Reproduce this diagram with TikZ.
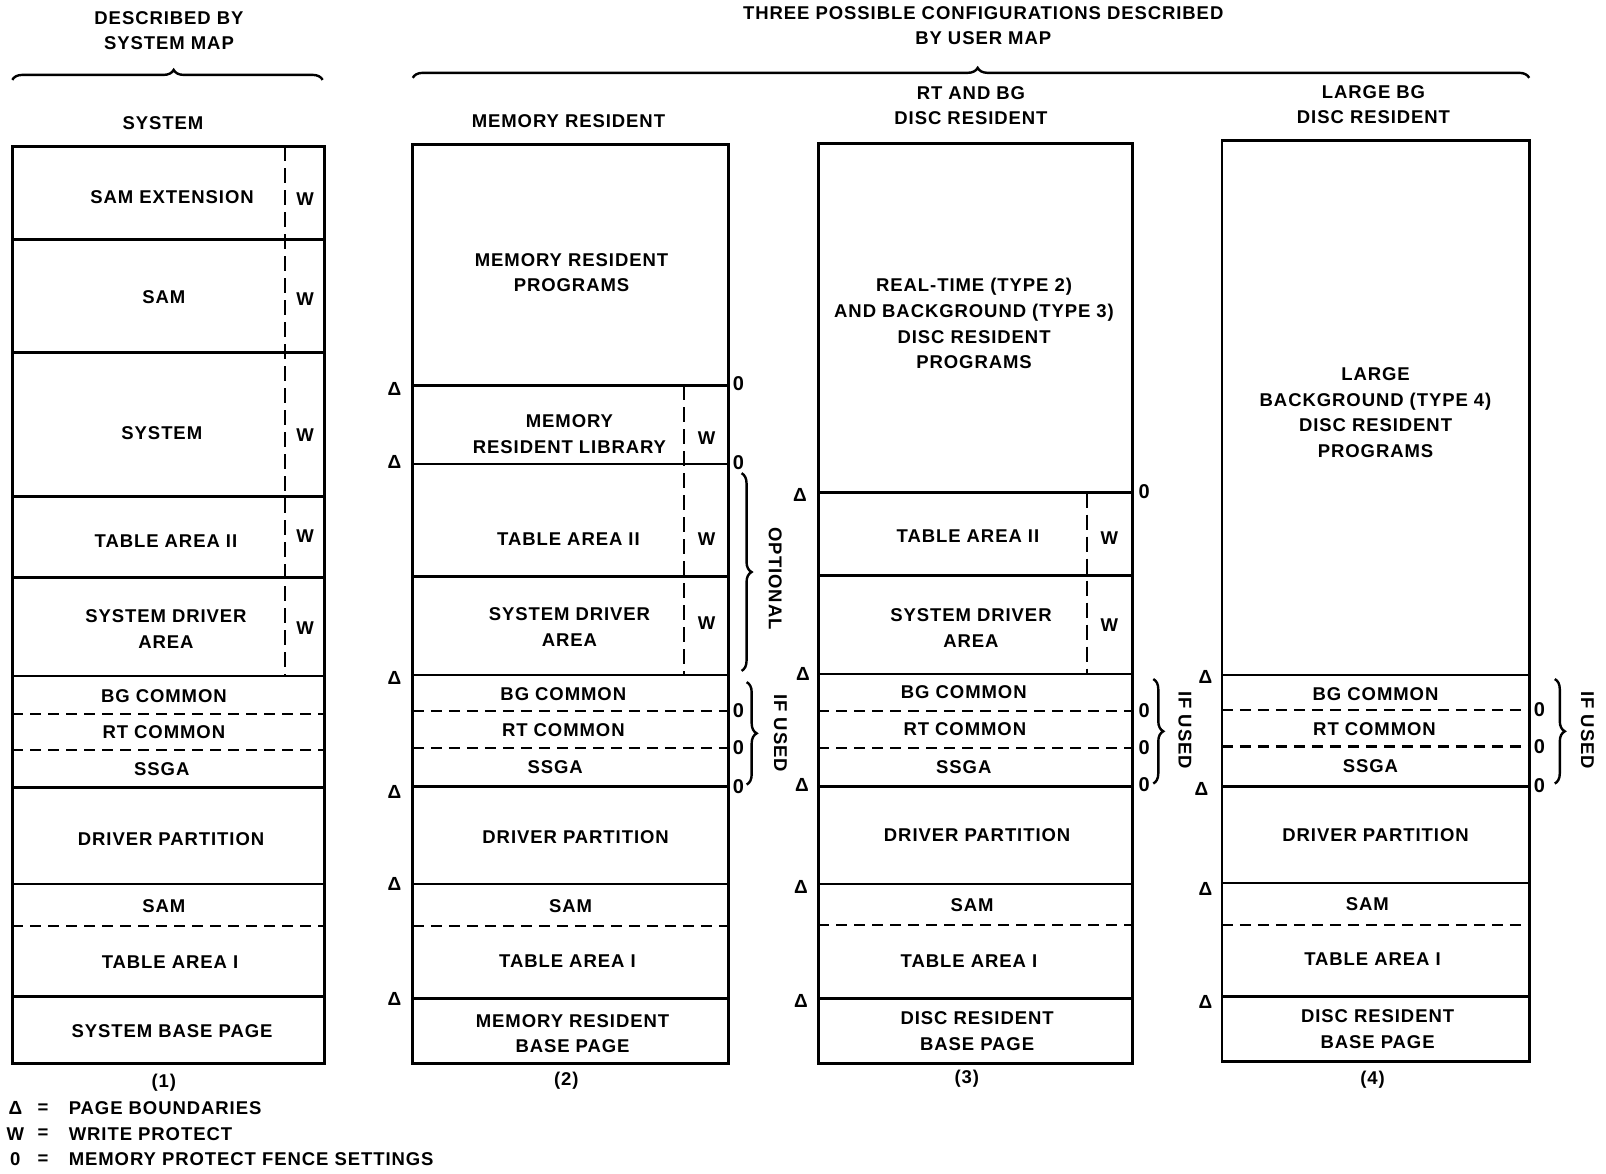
\documentclass[tikz,border=0pt]{standalone}
\usepackage{fontspec}
\setmainfont{Liberation Sans}[LetterSpace=5]
\newfontfamily\trifont{Liberation Sans}
\usetikzlibrary{decorations.pathreplacing}
\begin{document}
\begin{tikzpicture}[x=1.0242pt,y=-1.0242pt,
  font=\fontsize{18.5}{25.6}\selectfont\bfseries,
  every node/.style={inner sep=0pt,align=center},
  box/.style={line width=2.8pt},
  hdash/.style={line width=2.4pt,dash pattern=on 11pt off 7pt},
  vdash/.style={line width=2.4pt,dash pattern=on 15pt off 7pt},
  brc/.style={line width=2.4pt,decorate,decoration={brace,amplitude=10pt}},
  pg/.style={font=\trifont\fontsize{19}{19}\selectfont\bfseries},
  fence/.style={font=\fontsize{20}{20}\selectfont\bfseries},
  vert/.style={rotate=-90}]
\useasboundingbox (0,0) rectangle (1568,1146);

% ---------- headings ----------
\node (h1) at (165,30) {DESCRIBED BY\\SYSTEM MAP};
\draw[brc,decoration={aspect=0.52}] (12,78) -- (315,78);
\node (h2) at (960,25) {THREE POSSIBLE CONFIGURATIONS DESCRIBED\\BY USER MAP};
\draw[brc,decoration={aspect=0.506}] (403,76) -- (1493,76);

\node (t1) at (159,120) {SYSTEM};
\node (t2) at (555,118) {MEMORY RESIDENT};
\node (t3) at (948,103) {RT AND BG\\DISC RESIDENT};
\node (t4) at (1341,102) {LARGE BG\\DISC RESIDENT};

% ---------- map (1): system ----------
\draw[box] (12,143) rectangle (317,1038);
\foreach \y in {234,344,485,564,660,769,863,973} \draw[box] (12,\y) -- (317,\y);
\foreach \y in {697,732,904} \draw[hdash] (12,\y) -- (317,\y);
\draw[vdash] (278,143) -- (278,660);
\node (a1) at (168,192) {SAM EXTENSION};
\node (a2) at (160,290) {SAM};
\node (a3) at (158,423) {SYSTEM};
\node (a4) at (162,528) {TABLE AREA II};
\node (a5) at (162,614) {SYSTEM DRIVER\\AREA};
\node (a6) at (160,680) {BG COMMON};
\node (a7) at (160,715) {RT COMMON};
\node (a8) at (158,751) {SSGA};
\node (a9) at (167,819) {DRIVER PARTITION};
\node (a10) at (160,885) {SAM};
\node (a11) at (166,939) {TABLE AREA I};
\node (a12) at (168,1007) {SYSTEM BASE PAGE};
\foreach \y/\n in {194/1,292/2,425/3,523/4,613/5} \node (aw\n) at (298,\y) {W};
\node (n1) at (160,1057) {(1)};

% ---------- map (2): memory resident ----------
\draw[box] (403,141) rectangle (711,1038);
\foreach \y in {376,453,563,659,768,863,975} \draw[box] (403,\y) -- (711,\y);
\foreach \y in {694,730,904} \draw[hdash] (403,\y) -- (711,\y);
\draw[vdash] (668,376) -- (668,659);
\node (b1) at (558,266) {MEMORY RESIDENT\\PROGRAMS};
\node (b2) at (556,424) {MEMORY\\RESIDENT LIBRARY};
\node (b3) at (555,526) {TABLE AREA II};
\node (b4) at (556,612) {SYSTEM DRIVER\\AREA};
\node (b5) at (550,678) {BG COMMON};
\node (b6) at (550,713) {RT COMMON};
\node (b7) at (542,749) {SSGA};
\node (b8) at (562,817) {DRIVER PARTITION};
\node (b9) at (557,885) {SAM};
\node (b10) at (554,938) {TABLE AREA I};
\node (b11) at (559,1009) {MEMORY RESIDENT\\BASE PAGE};
\foreach \y/\n in {428/1,526/2,608/3} \node (bw\n) at (690,\y) {W};
\foreach \y/\n in {380/1,451/2,662/3,773/4,863/5,975/6} \node[pg] (bp\n) at (385,\y) {Δ};
\foreach \y/\n in {375/1,452/2,694/3,730/4,768/5} \node[fence] (bz\n) at (721,\y) {0};
\draw[brc] (724,462) -- (724,655);
\node[vert] (bo) at (757,565) {OPTIONAL};
\draw[brc] (729,666) -- (729,766);
\node[vert] (bu) at (762,716) {IF USED};
\node (n2) at (553,1055) {(2)};

% ---------- map (3): RT and BG disc resident ----------
\draw[box] (799,140) rectangle (1106,1038);
\foreach \y in {481,562,658,768,863,975} \draw[box] (799,\y) -- (1106,\y);
\foreach \y in {694,730,903} \draw[hdash] (799,\y) -- (1106,\y);
\draw[vdash] (1061,481) -- (1061,658);
\node (c1) at (951,316) {REAL-TIME (TYPE 2)\\AND BACKGROUND (TYPE 3)\\DISC RESIDENT\\PROGRAMS};
\node (c2) at (945,523) {TABLE AREA II};
\node (c3) at (948,613) {SYSTEM DRIVER\\AREA};
\node (c4) at (941,676) {BG COMMON};
\node (c5) at (942,712) {RT COMMON};
\node (c6) at (941,749) {SSGA};
\node (c7) at (954,815) {DRIVER PARTITION};
\node (c8) at (949,884) {SAM};
\node (c9) at (946,938) {TABLE AREA I};
\node (c10) at (954,1007) {DISC RESIDENT\\BASE PAGE};
\foreach \y/\n in {525/1,610/2} \node (cw\n) at (1083,\y) {W};
\foreach \x/\y/\n in {781/483/1,784/658/2,783/766/3,782/866/4,782/977/5} \node[pg] (cp\n) at (\x,\y) {Δ};
\foreach \y/\n in {480/1,694/2,730/3,766/4} \node[fence] (cz\n) at (1117,\y) {0};
\draw[brc] (1126,663) -- (1126,765);
\node[vert] (cu) at (1157,713) {IF USED};
\node (n3) at (944,1053) {(3)};

% ---------- map (4): large BG disc resident ----------
\draw[box] (1193,137) rectangle (1493,1036);
\foreach \y in {659,768,862,973} \draw[box] (1193,\y) -- (1493,\y);
\foreach \y in {693,729,903} \draw[hdash] (1193,\y) -- (1493,\y);
\node (d1) at (1343,403) {LARGE\\BACKGROUND (TYPE 4)\\DISC RESIDENT\\PROGRAMS};
\node (d2) at (1343,678) {BG COMMON};
\node (d3) at (1342,712) {RT COMMON};
\node (d4) at (1338,748) {SSGA};
\node (d5) at (1343,815) {DRIVER PARTITION};
\node (d6) at (1335,883) {SAM};
\node (d7) at (1340,936) {TABLE AREA I};
\node (d8) at (1345,1005) {DISC RESIDENT\\BASE PAGE};
\foreach \x/\y/\n in {1177/661/1,1173/770/2,1177/868/3,1177/978/4} \node[pg] (dp\n) at (\x,\y) {Δ};
\foreach \y/\n in {693/1,729/2,767/3} \node[fence] (dz\n) at (1503,\y) {0};
\draw[brc] (1518,663) -- (1518,765);
\node[vert] (du) at (1550,713) {IF USED};
\node (n4) at (1340,1054) {(4)};

% ---------- legend ----------
\node[pg] (k1) at (15,1082) {Δ};
\node (k2) at (15,1107) {W};
\node (k3) at (15,1132) {0};
\foreach \y/\n in {1082/1,1107/2,1132/3} \node (ke\n) at (42,\y) {=};
\node[anchor=west] (l1) at (67,1082) {PAGE BOUNDARIES};
\node[anchor=west] (l2) at (67,1107) {WRITE PROTECT};
\node[anchor=west] (l3) at (67,1132) {MEMORY PROTECT FENCE SETTINGS};
\end{tikzpicture}
\end{document}
